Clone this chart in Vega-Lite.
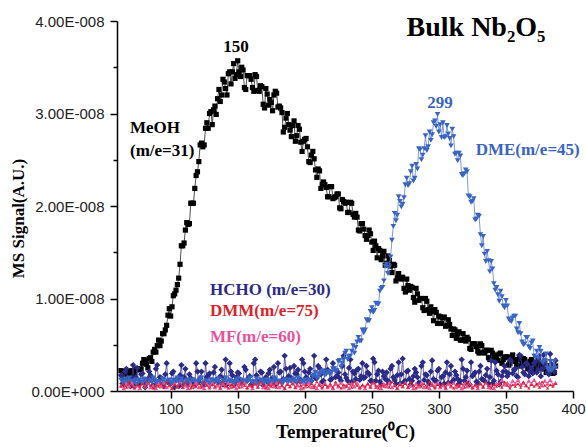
{
"$schema": "https://vega.github.io/schema/vega-lite/v6.json",
"width": 456, "height": 370,
"autosize": "none",
"padding": {"left": 117, "top": 21, "right": 13, "bottom": 56},
"background": "white",
"config": {
 "view": {"stroke": null},
 "axis": {"grid": false, "domainColor": "black", "domainWidth": 1.5, "tickColor": "black", "tickWidth": 1.5,
  "labelFont": "Liberation Sans", "labelFontSize": 14.5, "labelColor": "#222",
  "titleFont": "Liberation Serif", "titleFontWeight": "bold", "titleFontSize": 19, "titleColor": "black"}
},
"datasets": {
 "tpd": [
{"T":63,"MeOH":0.22,"DME":0.12,"HCHO":0.17,"DMM":0.05,"MF":0.06},
{"T":65,"MeOH":0.15,"DME":0.08,"HCHO":0.06,"DMM":0.08,"MF":0.03},
{"T":67,"MeOH":0.2,"DME":0.11,"HCHO":0.24,"DMM":0.04,"MF":0.08},
{"T":69,"MeOH":0.16,"DME":0.14,"HCHO":0.09,"DMM":0.1,"MF":0.05},
{"T":71,"MeOH":0.22,"DME":0.09,"HCHO":0.14,"DMM":0.06,"MF":0.09},
{"T":73,"MeOH":0.18,"DME":0.1,"HCHO":0.05,"DMM":0.03,"MF":0.04},
{"T":75,"MeOH":0.24,"DME":0.07,"HCHO":0.25,"DMM":0.07,"MF":0.06},
{"T":77,"MeOH":0.23,"DME":0.12,"HCHO":0.08,"DMM":0.05,"MF":0.03},
{"T":79,"MeOH":0.3,"DME":0.09,"HCHO":0.19,"DMM":0.08,"MF":0.08},
{"T":81,"MeOH":0.33,"DME":0.12,"HCHO":0.04,"DMM":0.04,"MF":0.05},
{"T":83,"MeOH":0.25,"DME":0.08,"HCHO":0.13,"DMM":0.1,"MF":0.09},
{"T":85,"MeOH":0.36,"DME":0.11,"HCHO":0.17,"DMM":0.06,"MF":0.04},
{"T":87,"MeOH":0.42,"DME":0.14,"HCHO":0.06,"DMM":0.03,"MF":0.06},
{"T":89,"MeOH":0.42,"DME":0.09,"HCHO":0.24,"DMM":0.07,"MF":0.03},
{"T":91,"MeOH":0.55,"DME":0.1,"HCHO":0.09,"DMM":0.05,"MF":0.08},
{"T":93,"MeOH":0.54,"DME":0.07,"HCHO":0.14,"DMM":0.08,"MF":0.05},
{"T":95,"MeOH":0.62,"DME":0.12,"HCHO":0.05,"DMM":0.04,"MF":0.09},
{"T":97,"MeOH":0.71,"DME":0.09,"HCHO":0.3,"DMM":0.1,"MF":0.04},
{"T":99,"MeOH":0.89,"DME":0.12,"HCHO":0.08,"DMM":0.06,"MF":0.06},
{"T":101,"MeOH":0.91,"DME":0.08,"HCHO":0.19,"DMM":0.03,"MF":0.03},
{"T":103,"MeOH":1.05,"DME":0.11,"HCHO":0.04,"DMM":0.07,"MF":0.08},
{"T":105,"MeOH":1.15,"DME":0.14,"HCHO":0.13,"DMM":0.05,"MF":0.05},
{"T":107,"MeOH":1.37,"DME":0.09,"HCHO":0.17,"DMM":0.08,"MF":0.09},
{"T":109,"MeOH":1.57,"DME":0.1,"HCHO":0.06,"DMM":0.04,"MF":0.04},
{"T":111,"MeOH":1.74,"DME":0.07,"HCHO":0.24,"DMM":0.1,"MF":0.06},
{"T":113,"MeOH":1.8,"DME":0.12,"HCHO":0.09,"DMM":0.06,"MF":0.03},
{"T":115,"MeOH":2.03,"DME":0.09,"HCHO":0.14,"DMM":0.03,"MF":0.08},
{"T":117,"MeOH":2.03,"DME":0.12,"HCHO":0.05,"DMM":0.07,"MF":0.05},
{"T":119,"MeOH":2.33,"DME":0.08,"HCHO":0.3,"DMM":0.05,"MF":0.09},
{"T":121,"MeOH":2.48,"DME":0.11,"HCHO":0.1,"DMM":0.08,"MF":0.04},
{"T":123,"MeOH":2.68,"DME":0.14,"HCHO":0.21,"DMM":0.04,"MF":0.06},
{"T":125,"MeOH":2.66,"DME":0.09,"HCHO":0.06,"DMM":0.1,"MF":0.03},
{"T":127,"MeOH":2.9,"DME":0.1,"HCHO":0.15,"DMM":0.06,"MF":0.08},
{"T":129,"MeOH":3.0,"DME":0.07,"HCHO":0.19,"DMM":0.03,"MF":0.05},
{"T":131,"MeOH":2.88,"DME":0.12,"HCHO":0.08,"DMM":0.07,"MF":0.09},
{"T":133,"MeOH":3.08,"DME":0.09,"HCHO":0.26,"DMM":0.05,"MF":0.04},
{"T":135,"MeOH":3.16,"DME":0.12,"HCHO":0.11,"DMM":0.08,"MF":0.06},
{"T":137,"MeOH":3.13,"DME":0.08,"HCHO":0.16,"DMM":0.04,"MF":0.03},
{"T":139,"MeOH":3.37,"DME":0.11,"HCHO":0.07,"DMM":0.1,"MF":0.08},
{"T":141,"MeOH":3.27,"DME":0.14,"HCHO":0.34,"DMM":0.06,"MF":0.05},
{"T":143,"MeOH":3.43,"DME":0.09,"HCHO":0.1,"DMM":0.03,"MF":0.09},
{"T":145,"MeOH":3.32,"DME":0.1,"HCHO":0.21,"DMM":0.07,"MF":0.04},
{"T":147,"MeOH":3.54,"DME":0.07,"HCHO":0.06,"DMM":0.05,"MF":0.06},
{"T":149,"MeOH":3.42,"DME":0.12,"HCHO":0.15,"DMM":0.08,"MF":0.03},
{"T":151,"MeOH":3.45,"DME":0.09,"HCHO":0.19,"DMM":0.04,"MF":0.08},
{"T":153,"MeOH":3.5,"DME":0.12,"HCHO":0.08,"DMM":0.1,"MF":0.05},
{"T":155,"MeOH":3.28,"DME":0.08,"HCHO":0.26,"DMM":0.06,"MF":0.09},
{"T":157,"MeOH":3.41,"DME":0.11,"HCHO":0.11,"DMM":0.03,"MF":0.04},
{"T":159,"MeOH":3.41,"DME":0.14,"HCHO":0.16,"DMM":0.07,"MF":0.06},
{"T":161,"MeOH":3.28,"DME":0.09,"HCHO":0.07,"DMM":0.05,"MF":0.03},
{"T":163,"MeOH":3.42,"DME":0.1,"HCHO":0.34,"DMM":0.08,"MF":0.08},
{"T":165,"MeOH":3.25,"DME":0.07,"HCHO":0.1,"DMM":0.04,"MF":0.05},
{"T":167,"MeOH":3.3,"DME":0.12,"HCHO":0.21,"DMM":0.1,"MF":0.09},
{"T":169,"MeOH":3.1,"DME":0.09,"HCHO":0.06,"DMM":0.06,"MF":0.04},
{"T":171,"MeOH":3.27,"DME":0.12,"HCHO":0.15,"DMM":0.03,"MF":0.06},
{"T":173,"MeOH":3.09,"DME":0.08,"HCHO":0.19,"DMM":0.07,"MF":0.03},
{"T":175,"MeOH":3.12,"DME":0.11,"HCHO":0.08,"DMM":0.05,"MF":0.08},
{"T":177,"MeOH":3.2,"DME":0.14,"HCHO":0.26,"DMM":0.08,"MF":0.05},
{"T":179,"MeOH":3.22,"DME":0.09,"HCHO":0.11,"DMM":0.04,"MF":0.09},
{"T":181,"MeOH":3.08,"DME":0.1,"HCHO":0.2,"DMM":0.1,"MF":0.04},
{"T":183,"MeOH":3.01,"DME":0.07,"HCHO":0.11,"DMM":0.06,"MF":0.06},
{"T":185,"MeOH":2.85,"DME":0.12,"HCHO":0.38,"DMM":0.03,"MF":0.03},
{"T":187,"MeOH":3.0,"DME":0.09,"HCHO":0.14,"DMM":0.07,"MF":0.08},
{"T":189,"MeOH":2.82,"DME":0.12,"HCHO":0.25,"DMM":0.05,"MF":0.05},
{"T":191,"MeOH":2.87,"DME":0.08,"HCHO":0.1,"DMM":0.08,"MF":0.09},
{"T":193,"MeOH":2.7,"DME":0.11,"HCHO":0.19,"DMM":0.04,"MF":0.04},
{"T":195,"MeOH":2.87,"DME":0.14,"HCHO":0.23,"DMM":0.1,"MF":0.06},
{"T":197,"MeOH":2.69,"DME":0.09,"HCHO":0.12,"DMM":0.06,"MF":0.03},
{"T":199,"MeOH":2.7,"DME":0.1,"HCHO":0.3,"DMM":0.03,"MF":0.08},
{"T":201,"MeOH":2.73,"DME":0.07,"HCHO":0.15,"DMM":0.07,"MF":0.05},
{"T":203,"MeOH":2.48,"DME":0.12,"HCHO":0.2,"DMM":0.05,"MF":0.09},
{"T":205,"MeOH":2.55,"DME":0.09,"HCHO":0.11,"DMM":0.08,"MF":0.04},
{"T":207,"MeOH":2.51,"DME":0.17,"HCHO":0.38,"DMM":0.04,"MF":0.06},
{"T":209,"MeOH":2.31,"DME":0.14,"HCHO":0.14,"DMM":0.1,"MF":0.03},
{"T":211,"MeOH":2.38,"DME":0.18,"HCHO":0.25,"DMM":0.06,"MF":0.08},
{"T":213,"MeOH":2.23,"DME":0.21,"HCHO":0.1,"DMM":0.03,"MF":0.05},
{"T":215,"MeOH":2.23,"DME":0.17,"HCHO":0.19,"DMM":0.07,"MF":0.09},
{"T":217,"MeOH":2.1,"DME":0.2,"HCHO":0.23,"DMM":0.05,"MF":0.04},
{"T":219,"MeOH":2.21,"DME":0.18,"HCHO":0.12,"DMM":0.08,"MF":0.06},
{"T":221,"MeOH":2.08,"DME":0.24,"HCHO":0.3,"DMM":0.04,"MF":0.03},
{"T":223,"MeOH":2.1,"DME":0.22,"HCHO":0.15,"DMM":0.1,"MF":0.08},
{"T":225,"MeOH":2.13,"DME":0.32,"HCHO":0.2,"DMM":0.06,"MF":0.05},
{"T":227,"MeOH":1.97,"DME":0.26,"HCHO":0.11,"DMM":0.03,"MF":0.09},
{"T":229,"MeOH":2.05,"DME":0.34,"HCHO":0.38,"DMM":0.07,"MF":0.04},
{"T":231,"MeOH":2.04,"DME":0.43,"HCHO":0.14,"DMM":0.05,"MF":0.06},
{"T":233,"MeOH":1.93,"DME":0.37,"HCHO":0.25,"DMM":0.08,"MF":0.03},
{"T":235,"MeOH":2.03,"DME":0.43,"HCHO":0.1,"DMM":0.04,"MF":0.08},
{"T":237,"MeOH":1.88,"DME":0.41,"HCHO":0.19,"DMM":0.1,"MF":0.05},
{"T":239,"MeOH":1.88,"DME":0.53,"HCHO":0.23,"DMM":0.06,"MF":0.09},
{"T":241,"MeOH":1.73,"DME":0.54,"HCHO":0.12,"DMM":0.03,"MF":0.04},
{"T":243,"MeOH":1.81,"DME":0.66,"HCHO":0.3,"DMM":0.07,"MF":0.06},
{"T":245,"MeOH":1.68,"DME":0.66,"HCHO":0.15,"DMM":0.05,"MF":0.03},
{"T":247,"MeOH":1.68,"DME":0.76,"HCHO":0.2,"DMM":0.08,"MF":0.08},
{"T":249,"MeOH":1.7,"DME":0.86,"HCHO":0.11,"DMM":0.04,"MF":0.05},
{"T":251,"MeOH":1.52,"DME":0.85,"HCHO":0.35,"DMM":0.1,"MF":0.09},
{"T":253,"MeOH":1.57,"DME":0.95,"HCHO":0.11,"DMM":0.06,"MF":0.04},
{"T":255,"MeOH":1.54,"DME":0.94,"HCHO":0.22,"DMM":0.03,"MF":0.06},
{"T":257,"MeOH":1.42,"DME":1.11,"HCHO":0.07,"DMM":0.07,"MF":0.03},
{"T":259,"MeOH":1.51,"DME":1.19,"HCHO":0.16,"DMM":0.05,"MF":0.08},
{"T":261,"MeOH":1.38,"DME":1.37,"HCHO":0.2,"DMM":0.08,"MF":0.05},
{"T":263,"MeOH":1.41,"DME":1.34,"HCHO":0.09,"DMM":0.04,"MF":0.09},
{"T":265,"MeOH":1.28,"DME":1.63,"HCHO":0.27,"DMM":0.1,"MF":0.04},
{"T":267,"MeOH":1.36,"DME":1.92,"HCHO":0.12,"DMM":0.06,"MF":0.06},
{"T":269,"MeOH":1.22,"DME":1.9,"HCHO":0.17,"DMM":0.03,"MF":0.03},
{"T":271,"MeOH":1.22,"DME":2.05,"HCHO":0.08,"DMM":0.07,"MF":0.08},
{"T":273,"MeOH":1.23,"DME":2.02,"HCHO":0.35,"DMM":0.05,"MF":0.05},
{"T":275,"MeOH":1.07,"DME":2.23,"HCHO":0.11,"DMM":0.08,"MF":0.09},
{"T":277,"MeOH":1.14,"DME":2.22,"HCHO":0.22,"DMM":0.04,"MF":0.04},
{"T":279,"MeOH":1.13,"DME":2.37,"HCHO":0.07,"DMM":0.1,"MF":0.06},
{"T":281,"MeOH":1.01,"DME":2.27,"HCHO":0.16,"DMM":0.06,"MF":0.03},
{"T":283,"MeOH":1.11,"DME":2.45,"HCHO":0.2,"DMM":0.03,"MF":0.08},
{"T":285,"MeOH":0.98,"DME":2.62,"HCHO":0.09,"DMM":0.07,"MF":0.05},
{"T":287,"MeOH":1.0,"DME":2.5,"HCHO":0.27,"DMM":0.05,"MF":0.09},
{"T":289,"MeOH":0.87,"DME":2.62,"HCHO":0.12,"DMM":0.08,"MF":0.04},
{"T":291,"MeOH":0.97,"DME":2.6,"HCHO":0.17,"DMM":0.04,"MF":0.06},
{"T":293,"MeOH":0.84,"DME":2.8,"HCHO":0.08,"DMM":0.1,"MF":0.03},
{"T":295,"MeOH":0.86,"DME":2.77,"HCHO":0.33,"DMM":0.06,"MF":0.08},
{"T":297,"MeOH":0.88,"DME":2.92,"HCHO":0.11,"DMM":0.03,"MF":0.05},
{"T":299,"MeOH":0.73,"DME":2.99,"HCHO":0.22,"DMM":0.07,"MF":0.09},
{"T":301,"MeOH":0.8,"DME":2.88,"HCHO":0.07,"DMM":0.05,"MF":0.04},
{"T":303,"MeOH":0.79,"DME":2.9,"HCHO":0.16,"DMM":0.08,"MF":0.06},
{"T":305,"MeOH":0.7,"DME":2.75,"HCHO":0.2,"DMM":0.04,"MF":0.03},
{"T":307,"MeOH":0.77,"DME":2.78,"HCHO":0.09,"DMM":0.1,"MF":0.08},
{"T":309,"MeOH":0.67,"DME":2.65,"HCHO":0.27,"DMM":0.06,"MF":0.05},
{"T":311,"MeOH":0.67,"DME":2.75,"HCHO":0.12,"DMM":0.03,"MF":0.09},
{"T":313,"MeOH":0.57,"DME":2.57,"HCHO":0.17,"DMM":0.07,"MF":0.04},
{"T":315,"MeOH":0.64,"DME":2.57,"HCHO":0.08,"DMM":0.05,"MF":0.06},
{"T":317,"MeOH":0.55,"DME":2.34,"HCHO":0.34,"DMM":0.08,"MF":0.03},
{"T":319,"MeOH":0.56,"DME":2.35,"HCHO":0.11,"DMM":0.04,"MF":0.08},
{"T":321,"MeOH":0.58,"DME":2.37,"HCHO":0.22,"DMM":0.1,"MF":0.05},
{"T":323,"MeOH":0.46,"DME":2.1,"HCHO":0.07,"DMM":0.06,"MF":0.09},
{"T":325,"MeOH":0.51,"DME":2.05,"HCHO":0.16,"DMM":0.03,"MF":0.04},
{"T":327,"MeOH":0.51,"DME":1.85,"HCHO":0.2,"DMM":0.07,"MF":0.06},
{"T":329,"MeOH":0.43,"DME":1.9,"HCHO":0.09,"DMM":0.05,"MF":0.03},
{"T":331,"MeOH":0.51,"DME":1.69,"HCHO":0.27,"DMM":0.08,"MF":0.08},
{"T":333,"MeOH":0.42,"DME":1.67,"HCHO":0.12,"DMM":0.04,"MF":0.05},
{"T":335,"MeOH":0.44,"DME":1.4,"HCHO":0.17,"DMM":0.1,"MF":0.09},
{"T":337,"MeOH":0.36,"DME":1.41,"HCHO":0.08,"DMM":0.06,"MF":0.04},
{"T":339,"MeOH":0.44,"DME":1.4,"HCHO":0.33,"DMM":0.03,"MF":0.06},
{"T":341,"MeOH":0.36,"DME":1.16,"HCHO":0.11,"DMM":0.07,"MF":0.03},
{"T":343,"MeOH":0.38,"DME":1.12,"HCHO":0.22,"DMM":0.05,"MF":0.08},
{"T":345,"MeOH":0.4,"DME":0.97,"HCHO":0.07,"DMM":0.08,"MF":0.08},
{"T":347,"MeOH":0.3,"DME":1.02,"HCHO":0.16,"DMM":0.04,"MF":0.12},
{"T":349,"MeOH":0.36,"DME":0.9,"HCHO":0.27,"DMM":0.1,"MF":0.07},
{"T":351,"MeOH":0.37,"DME":0.92,"HCHO":0.16,"DMM":0.06,"MF":0.09},
{"T":353,"MeOH":0.3,"DME":0.76,"HCHO":0.34,"DMM":0.03,"MF":0.06},
{"T":355,"MeOH":0.39,"DME":0.79,"HCHO":0.19,"DMM":0.07,"MF":0.11},
{"T":357,"MeOH":0.32,"DME":0.81,"HCHO":0.24,"DMM":0.05,"MF":0.08},
{"T":359,"MeOH":0.34,"DME":0.63,"HCHO":0.15,"DMM":0.08,"MF":0.12},
{"T":361,"MeOH":0.27,"DME":0.62,"HCHO":0.38,"DMM":0.04,"MF":0.07},
{"T":363,"MeOH":0.35,"DME":0.5,"HCHO":0.2,"DMM":0.1,"MF":0.09},
{"T":365,"MeOH":0.28,"DME":0.58,"HCHO":0.3,"DMM":0.06,"MF":0.06},
{"T":367,"MeOH":0.3,"DME":0.48,"HCHO":0.16,"DMM":0.03,"MF":0.11},
{"T":369,"MeOH":0.34,"DME":0.52,"HCHO":0.25,"DMM":0.07,"MF":0.08},
{"T":371,"MeOH":0.23,"DME":0.38,"HCHO":0.3,"DMM":0.05,"MF":0.12},
{"T":373,"MeOH":0.29,"DME":0.43,"HCHO":0.2,"DMM":0.08,"MF":0.07},
{"T":375,"MeOH":0.31,"DME":0.47,"HCHO":0.38,"DMM":0.04,"MF":0.09},
{"T":377,"MeOH":0.24,"DME":0.31,"HCHO":0.24,"DMM":0.1,"MF":0.06},
{"T":379,"MeOH":0.32,"DME":0.33,"HCHO":0.29,"DMM":0.06,"MF":0.11},
{"T":381,"MeOH":0.24,"DME":0.25,"HCHO":0.2,"DMM":0.03,"MF":0.08},
{"T":383,"MeOH":0.27,"DME":0.32,"HCHO":0.4,"DMM":0.07,"MF":0.12},
{"T":385,"MeOH":0.19,"DME":0.24,"HCHO":0.24,"DMM":0.05,"MF":0.07},
{"T":387,"MeOH":0.27,"DME":0.25,"HCHO":0.33,"DMM":0.08,"MF":0.09},
{"T":64,"MeOH":0.15,"DME":0.1,"HCHO":0.08},
{"T":66,"MeOH":0.21,"DME":0.13,"HCHO":0.21},
{"T":68,"MeOH":0.15,"DME":0.08,"HCHO":0.12},
{"T":70,"MeOH":0.21,"DME":0.11,"HCHO":0.05},
{"T":72,"MeOH":0.16,"DME":0.09,"HCHO":0.28},
{"T":74,"MeOH":0.23,"DME":0.12,"HCHO":0.15},
{"T":76,"MeOH":0.23,"DME":0.1,"HCHO":0.07},
{"T":78,"MeOH":0.24,"DME":0.1,"HCHO":0.18},
{"T":80,"MeOH":0.34,"DME":0.13,"HCHO":0.1},
{"T":82,"MeOH":0.29,"DME":0.08,"HCHO":0.08},
{"T":84,"MeOH":0.35,"DME":0.11,"HCHO":0.21},
{"T":86,"MeOH":0.32,"DME":0.09,"HCHO":0.12},
{"T":88,"MeOH":0.45,"DME":0.12,"HCHO":0.05},
{"T":90,"MeOH":0.49,"DME":0.1,"HCHO":0.28},
{"T":92,"MeOH":0.49,"DME":0.1,"HCHO":0.15},
{"T":94,"MeOH":0.62,"DME":0.13,"HCHO":0.07},
{"T":96,"MeOH":0.66,"DME":0.08,"HCHO":0.18},
{"T":98,"MeOH":0.82,"DME":0.11,"HCHO":0.1},
{"T":100,"MeOH":0.81,"DME":0.09,"HCHO":0.08},
{"T":102,"MeOH":1.03,"DME":0.12,"HCHO":0.21},
{"T":104,"MeOH":1.09,"DME":0.1,"HCHO":0.12},
{"T":106,"MeOH":1.22,"DME":0.1,"HCHO":0.05},
{"T":108,"MeOH":1.57,"DME":0.13,"HCHO":0.28},
{"T":110,"MeOH":1.6,"DME":0.08,"HCHO":0.15},
{"T":112,"MeOH":1.82,"DME":0.11,"HCHO":0.07},
{"T":114,"MeOH":1.81,"DME":0.09,"HCHO":0.18},
{"T":116,"MeOH":2.03,"DME":0.12,"HCHO":0.1},
{"T":118,"MeOH":2.19,"DME":0.1,"HCHO":0.08},
{"T":120,"MeOH":2.37,"DME":0.1,"HCHO":0.21},
{"T":122,"MeOH":2.66,"DME":0.13,"HCHO":0.14},
{"T":124,"MeOH":2.64,"DME":0.08,"HCHO":0.07},
{"T":126,"MeOH":2.84,"DME":0.11,"HCHO":0.3},
{"T":128,"MeOH":2.84,"DME":0.09,"HCHO":0.17},
{"T":130,"MeOH":3.02,"DME":0.12,"HCHO":0.09},
{"T":132,"MeOH":3.04,"DME":0.1,"HCHO":0.2},
{"T":134,"MeOH":2.99,"DME":0.1,"HCHO":0.12},
{"T":136,"MeOH":3.26,"DME":0.13,"HCHO":0.1},
{"T":138,"MeOH":3.2,"DME":0.08,"HCHO":0.23},
{"T":140,"MeOH":3.34,"DME":0.11,"HCHO":0.14},
{"T":142,"MeOH":3.2,"DME":0.09,"HCHO":0.07},
{"T":144,"MeOH":3.45,"DME":0.12,"HCHO":0.3},
{"T":146,"MeOH":3.45,"DME":0.1,"HCHO":0.17},
{"T":148,"MeOH":3.38,"DME":0.1,"HCHO":0.09},
{"T":150,"MeOH":3.57,"DME":0.13,"HCHO":0.2},
{"T":152,"MeOH":3.4,"DME":0.08,"HCHO":0.12},
{"T":154,"MeOH":3.47,"DME":0.11,"HCHO":0.1},
{"T":156,"MeOH":3.26,"DME":0.09,"HCHO":0.23},
{"T":158,"MeOH":3.41,"DME":0.12,"HCHO":0.14},
{"T":160,"MeOH":3.37,"DME":0.1,"HCHO":0.07},
{"T":162,"MeOH":3.24,"DME":0.1,"HCHO":0.3},
{"T":164,"MeOH":3.4,"DME":0.13,"HCHO":0.17},
{"T":166,"MeOH":3.24,"DME":0.08,"HCHO":0.09},
{"T":168,"MeOH":3.29,"DME":0.11,"HCHO":0.2},
{"T":170,"MeOH":3.06,"DME":0.09,"HCHO":0.12},
{"T":172,"MeOH":3.21,"DME":0.12,"HCHO":0.1},
{"T":174,"MeOH":3.15,"DME":0.1,"HCHO":0.23},
{"T":176,"MeOH":3.03,"DME":0.1,"HCHO":0.14},
{"T":178,"MeOH":3.24,"DME":0.13,"HCHO":0.07},
{"T":180,"MeOH":3.07,"DME":0.08,"HCHO":0.3},
{"T":182,"MeOH":3.06,"DME":0.11,"HCHO":0.21},
{"T":184,"MeOH":2.8,"DME":0.09,"HCHO":0.13},
{"T":186,"MeOH":2.95,"DME":0.12,"HCHO":0.24},
{"T":188,"MeOH":2.88,"DME":0.1,"HCHO":0.16},
{"T":190,"MeOH":2.75,"DME":0.1,"HCHO":0.14},
{"T":192,"MeOH":2.92,"DME":0.13,"HCHO":0.27},
{"T":194,"MeOH":2.76,"DME":0.08,"HCHO":0.18},
{"T":196,"MeOH":2.83,"DME":0.11,"HCHO":0.11},
{"T":198,"MeOH":2.59,"DME":0.09,"HCHO":0.34},
{"T":200,"MeOH":2.72,"DME":0.12,"HCHO":0.21},
{"T":202,"MeOH":2.64,"DME":0.1,"HCHO":0.13},
{"T":204,"MeOH":2.47,"DME":0.1,"HCHO":0.24},
{"T":206,"MeOH":2.59,"DME":0.16,"HCHO":0.16},
{"T":208,"MeOH":2.39,"DME":0.2,"HCHO":0.14},
{"T":210,"MeOH":2.4,"DME":0.15,"HCHO":0.27},
{"T":212,"MeOH":2.19,"DME":0.19,"HCHO":0.18},
{"T":214,"MeOH":2.26,"DME":0.22,"HCHO":0.11},
{"T":216,"MeOH":2.2,"DME":0.18,"HCHO":0.34},
{"T":218,"MeOH":2.1,"DME":0.21,"HCHO":0.21},
{"T":220,"MeOH":2.21,"DME":0.2,"HCHO":0.13},
{"T":222,"MeOH":2.09,"DME":0.24,"HCHO":0.24},
{"T":224,"MeOH":2.13,"DME":0.22,"HCHO":0.16},
{"T":226,"MeOH":1.98,"DME":0.33,"HCHO":0.14},
{"T":228,"MeOH":2.07,"DME":0.3,"HCHO":0.27},
{"T":230,"MeOH":2.03,"DME":0.41,"HCHO":0.18},
{"T":232,"MeOH":1.93,"DME":0.34,"HCHO":0.11},
{"T":234,"MeOH":2.04,"DME":0.38,"HCHO":0.34},
{"T":236,"MeOH":1.91,"DME":0.49,"HCHO":0.21},
{"T":238,"MeOH":1.92,"DME":0.47,"HCHO":0.13},
{"T":240,"MeOH":1.74,"DME":0.58,"HCHO":0.24},
{"T":242,"MeOH":1.81,"DME":0.54,"HCHO":0.16},
{"T":244,"MeOH":1.75,"DME":0.63,"HCHO":0.14},
{"T":246,"MeOH":1.64,"DME":0.77,"HCHO":0.27},
{"T":248,"MeOH":1.74,"DME":0.76,"HCHO":0.18},
{"T":250,"MeOH":1.61,"DME":0.9,"HCHO":0.11},
{"T":252,"MeOH":1.62,"DME":0.87,"HCHO":0.31},
{"T":254,"MeOH":1.44,"DME":0.94,"HCHO":0.18},
{"T":256,"MeOH":1.52,"DME":1.08,"HCHO":0.1},
{"T":258,"MeOH":1.46,"DME":1.12,"HCHO":0.21},
{"T":260,"MeOH":1.36,"DME":1.35,"HCHO":0.13},
{"T":262,"MeOH":1.46,"DME":1.27,"HCHO":0.11},
{"T":264,"MeOH":1.35,"DME":1.45,"HCHO":0.24},
{"T":266,"MeOH":1.37,"DME":1.78,"HCHO":0.15},
{"T":268,"MeOH":1.19,"DME":1.84,"HCHO":0.08},
{"T":270,"MeOH":1.27,"DME":2.1,"HCHO":0.31},
{"T":272,"MeOH":1.21,"DME":1.99,"HCHO":0.18},
{"T":274,"MeOH":1.11,"DME":2.09,"HCHO":0.1},
{"T":276,"MeOH":1.21,"DME":2.3,"HCHO":0.21},
{"T":278,"MeOH":1.09,"DME":2.24,"HCHO":0.13},
{"T":280,"MeOH":1.12,"DME":2.43,"HCHO":0.11},
{"T":282,"MeOH":0.96,"DME":2.3,"HCHO":0.24},
{"T":284,"MeOH":1.05,"DME":2.4,"HCHO":0.15},
{"T":286,"MeOH":1.0,"DME":2.61,"HCHO":0.08},
{"T":288,"MeOH":0.9,"DME":2.55,"HCHO":0.31},
{"T":290,"MeOH":1.0,"DME":2.76,"HCHO":0.18},
{"T":292,"MeOH":0.88,"DME":2.64,"HCHO":0.1},
{"T":294,"MeOH":0.91,"DME":2.71,"HCHO":0.21},
{"T":296,"MeOH":0.76,"DME":2.9,"HCHO":0.13},
{"T":298,"MeOH":0.85,"DME":2.86,"HCHO":0.11},
{"T":300,"MeOH":0.81,"DME":2.8,"HCHO":0.24},
{"T":302,"MeOH":0.73,"DME":2.74,"HCHO":0.15},
{"T":304,"MeOH":0.8,"DME":2.74,"HCHO":0.08},
{"T":306,"MeOH":0.71,"DME":2.87,"HCHO":0.31},
{"T":308,"MeOH":0.72,"DME":2.73,"HCHO":0.18},
{"T":310,"MeOH":0.6,"DME":2.83,"HCHO":0.1},
{"T":312,"MeOH":0.66,"DME":2.56,"HCHO":0.21},
{"T":314,"MeOH":0.62,"DME":2.49,"HCHO":0.13},
{"T":316,"MeOH":0.55,"DME":2.54,"HCHO":0.11},
{"T":318,"MeOH":0.62,"DME":2.33,"HCHO":0.24},
{"T":320,"MeOH":0.54,"DME":2.39,"HCHO":0.15},
{"T":322,"MeOH":0.56,"DME":2.11,"HCHO":0.08},
{"T":324,"MeOH":0.45,"DME":2.04,"HCHO":0.31},
{"T":326,"MeOH":0.51,"DME":2.08,"HCHO":0.18},
{"T":328,"MeOH":0.48,"DME":1.86,"HCHO":0.1},
{"T":330,"MeOH":0.41,"DME":1.89,"HCHO":0.21},
{"T":332,"MeOH":0.49,"DME":1.57,"HCHO":0.13},
{"T":334,"MeOH":0.41,"DME":1.48,"HCHO":0.11},
{"T":336,"MeOH":0.44,"DME":1.51,"HCHO":0.24},
{"T":338,"MeOH":0.34,"DME":1.29,"HCHO":0.15},
{"T":340,"MeOH":0.41,"DME":1.32,"HCHO":0.08},
{"T":342,"MeOH":0.39,"DME":1.09,"HCHO":0.31},
{"T":344,"MeOH":0.33,"DME":1.04,"HCHO":0.18},
{"T":346,"MeOH":0.41,"DME":1.08,"HCHO":0.1},
{"T":348,"MeOH":0.34,"DME":0.92,"HCHO":0.21},
{"T":350,"MeOH":0.37,"DME":0.98,"HCHO":0.21},
{"T":352,"MeOH":0.28,"DME":0.78,"HCHO":0.19},
{"T":354,"MeOH":0.35,"DME":0.75,"HCHO":0.32},
{"T":356,"MeOH":0.34,"DME":0.81,"HCHO":0.23},
{"T":358,"MeOH":0.28,"DME":0.67,"HCHO":0.16},
{"T":360,"MeOH":0.37,"DME":0.73,"HCHO":0.39},
{"T":362,"MeOH":0.3,"DME":0.53,"HCHO":0.26},
{"T":364,"MeOH":0.34,"DME":0.51,"HCHO":0.18},
{"T":366,"MeOH":0.24,"DME":0.58,"HCHO":0.29},
{"T":368,"MeOH":0.32,"DME":0.46,"HCHO":0.21},
{"T":370,"MeOH":0.3,"DME":0.54,"HCHO":0.19},
{"T":372,"MeOH":0.24,"DME":0.36,"HCHO":0.32},
{"T":374,"MeOH":0.33,"DME":0.35,"HCHO":0.23},
{"T":376,"MeOH":0.26,"DME":0.43,"HCHO":0.16},
{"T":378,"MeOH":0.3,"DME":0.31,"HCHO":0.39},
{"T":380,"MeOH":0.2,"DME":0.4,"HCHO":0.26},
{"T":382,"MeOH":0.27,"DME":0.22,"HCHO":0.18},
{"T":384,"MeOH":0.25,"DME":0.22,"HCHO":0.29},
{"T":386,"MeOH":0.2,"DME":0.32,"HCHO":0.21}
 ],
 "peaks": [
  {"T":148.7,"signal":3.66,"text":"150","series":"MeOH"},
  {"T":300.8,"signal":3.06,"text":"299","series":"DME"}
 ],
 "names": [
  {"T":69.7,"signal":2.79,"text":"MeOH","series":"MeOH"},
  {"T":69.7,"signal":2.54,"text":"(m/e=31)","series":"MeOH"},
  {"T":327.4,"signal":2.55,"text":"DME(m/e=45)","series":"DME"},
  {"T":129.3,"signal":1.04,"text":"HCHO (m/e=30)","series":"HCHO"},
  {"T":129.3,"signal":0.81,"text":"DMM(m/e=75)","series":"DMM"},
  {"T":129.3,"signal":0.53,"text":"MF(m/e=60)","series":"MF"}
 ],
 "heading": [
  {"T":327.7,"signal":3.84,"text":"Bulk Nb₂O₅"}
 ]
},
"layer": [
 {
  "data": {"name": "tpd"},
  "transform": [{"fold": ["MeOH","DME","HCHO","DMM","MF"], "as": ["series","signal"]}, {"filter": "isValid(datum.signal)"}],
  "encoding": {
   "x": {"field": "T", "type": "quantitative",
     "scale": {"domain": [60, 400], "nice": false, "zero": false},
     "axis": {"title": "Temperature(⁰C)", "values": [100,150,200,250,300,350,400], "format": "d",
       "tickSize": 7, "labelPadding": 4, "titlePadding": 7, "labelFlush": false, "labelOverlap": false}},
   "y": {"field": "signal", "type": "quantitative",
     "scale": {"domain": [0, 4], "nice": false},
     "axis": {"title": "MS Signal(A.U.)", "titleFontSize": 17, "titleY": 197, "values": [0,0.5,1,1.5,2,2.5,3,3.5,4],
       "labelExpr": "datum.value === 0 ? '0.00E+000' : (datum.value % 1 === 0 ? format(datum.value, '.2f') + 'E-008' : '')", "labelOverlap": false,
       "labelFontSize": 15,
       "tickSize": {"condition": {"test": "datum.value % 1 === 0", "value": 7}, "value": 4},
       "labelPadding": 6, "titlePadding": 4, "labelFlush": false}}
  },
  "layer": [
   {"transform": [{"filter": "datum.series === 'MeOH'"}], "mark": {"type": "line", "color": "#222", "strokeWidth": 0.8}},
   {"transform": [{"filter": "datum.series === 'MeOH'"}], "mark": {"type": "point", "shape": "square", "filled": true, "color": "black", "size": 27, "opacity": 1}},
   {"transform": [{"filter": "datum.series === 'HCHO'"}], "mark": {"type": "line", "color": "#3b3a98", "strokeWidth": 0.8}},
   {"transform": [{"filter": "datum.series === 'HCHO'"}], "mark": {"type": "point", "shape": "diamond", "filled": true, "color": "#2b2a86", "size": 40, "opacity": 1}},
   {"transform": [{"filter": "datum.series === 'DME'"}], "mark": {"type": "line", "color": "#6f8ed8", "strokeWidth": 0.9}},
   {"transform": [{"filter": "datum.series === 'DME'"}], "mark": {"type": "point", "shape": "triangle-down", "filled": true, "color": "#3a64c2", "size": 32, "opacity": 1}},
   {"transform": [{"filter": "datum.series === 'MF'"}], "mark": {"type": "line", "color": "#e8529c", "strokeWidth": 1}},
   {"transform": [{"filter": "datum.series === 'MF'"}], "mark": {"type": "point", "shape": "triangle-up", "filled": true, "color": "#e8529c", "size": 22, "opacity": 1}},
   {"transform": [{"filter": "datum.series === 'DMM'"}], "mark": {"type": "line", "color": "#d8232a", "strokeWidth": 0.8}},
   {"transform": [{"filter": "datum.series === 'DMM'"}], "mark": {"type": "point", "shape": "triangle-up", "filled": true, "color": "#d8232a", "size": 10, "opacity": 1}}
  ]
 },
 {
  "data": {"name": "peaks"},
  "mark": {"type": "text", "align": "center", "baseline": "alphabetic", "font": "Liberation Serif", "fontWeight": "bold", "fontSize": 17},
  "encoding": {
   "x": {"field": "T", "type": "quantitative"},
   "y": {"field": "signal", "type": "quantitative"},
   "text": {"field": "text"},
   "color": {"field": "series", "type": "nominal", "legend": null,
     "scale": {"domain": ["MeOH","DME","HCHO","DMM","MF"], "range": ["#000000","#3a64c2","#2b2a86","#d8232a","#e8529c"]}}
  }
 },
 {
  "data": {"name": "names"},
  "mark": {"type": "text", "align": "left", "baseline": "alphabetic", "font": "Liberation Serif", "fontWeight": "bold", "fontSize": 17},
  "encoding": {
   "x": {"field": "T", "type": "quantitative"},
   "y": {"field": "signal", "type": "quantitative"},
   "text": {"field": "text"},
   "color": {"field": "series", "type": "nominal", "legend": null,
     "scale": {"domain": ["MeOH","DME","HCHO","DMM","MF"], "range": ["#000000","#3a64c2","#2b2a86","#d8232a","#e8529c"]}}
  }
 },
 {
  "data": {"name": "heading"},
  "mark": {"type": "text", "align": "center", "baseline": "alphabetic", "font": "Liberation Serif", "fontWeight": "bold", "fontSize": 28, "color": "black"},
  "encoding": {
   "x": {"field": "T", "type": "quantitative"},
   "y": {"field": "signal", "type": "quantitative"},
   "text": {"field": "text"}
  }
 }
]
}
